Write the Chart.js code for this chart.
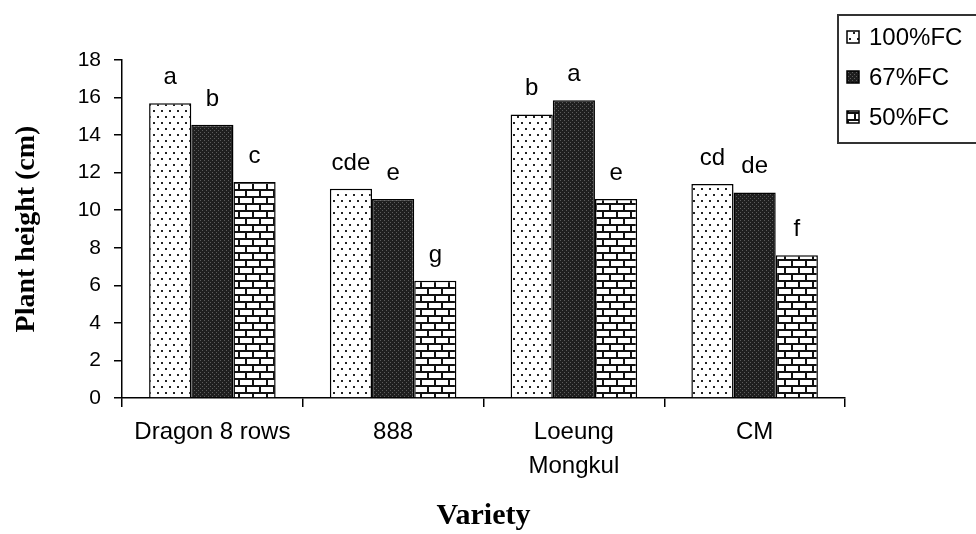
<!DOCTYPE html>
<html>
<head>
<meta charset="utf-8">
<script src="https://cdn.jsdelivr.net/npm/chart.js@4.4.0/dist/chart.umd.min.js"></script>
<style>
  html, body { margin: 0; padding: 0; background: #fff; }
  #wrap { width: 976px; height: 534px; }
</style>
</head>
<body>
<div id="wrap"><canvas id="c" width="976" height="534"></canvas></div>
<script>
// data
const varieties = ["Dragon 8 rows", "888", ["Loeung", "Mongkul"], "CM"];
const seriesNames = ["100%FC", "67%FC", "50%FC"];
const fc100 = [15.7, 11.15, 15.1, 11.4];
const fc67 = [14.55, 10.6, 15.85, 10.95];
const fc50 = [11.5, 6.25, 10.6, 7.6];
const letters100 = ["a", "cde", "b", "cd"];
const letters67 = ["b", "e", "a", "de"];
const letters50 = ["c", "g", "e", "f"];
const yTicks = [0, 2, 4, 6, 8, 10, 12, 14, 16, 18];

const sans = "'Liberation Sans', Arial, sans-serif";
const serif = "'Liberation Serif', 'Times New Roman', serif";

// fill patterns
function makeTile(w, h, paint) {
  const cv = document.createElement("canvas");
  cv.width = w; cv.height = h;
  const g = cv.getContext("2d");
  paint(g);
  return g.createPattern(cv, "repeat");
}
const ctx = document.getElementById("c").getContext("2d");

const dotted = makeTile(8, 12, g => {
  g.fillStyle = "#fff"; g.fillRect(0, 0, 8, 12);
  g.fillStyle = "#222";
  g.fillRect(1, 2, 2, 2);
  g.fillRect(5, 8, 2, 2);
});
const dark = makeTile(4, 4, g => {
  g.fillStyle = "#1f1f1f"; g.fillRect(0, 0, 4, 4);
  g.fillStyle = "#5c5c5c";
  g.fillRect(0, 0, 1, 1);
  g.fillRect(2, 2, 1, 1);
});
const brick = makeTile(14, 14, g => {
  g.fillStyle = "#fff"; g.fillRect(0, 0, 14, 14);
  g.fillStyle = "#111";
  g.fillRect(0, 0, 14, 2);
  g.fillRect(0, 7, 14, 2);
  g.fillRect(0, 0, 2, 7);
  g.fillRect(7, 7, 2, 7);
});
const fills = [dotted, dark, brick];
const letterSets = [letters100, letters67, letters50];

// letters over the bars
const letterPlugin = {
  id: "letters",
  afterDatasetsDraw(chart) {
    const c = chart.ctx;
    c.save();
    c.font = "24px " + sans;
    c.fillStyle = "#000";
    c.textAlign = "center";
    c.textBaseline = "alphabetic";
    chart.data.datasets.forEach((ds, i) => {
      chart.getDatasetMeta(i).data.forEach((bar, j) => {
        c.fillText(letterSets[i][j], bar.x, bar.y - 19);
      });
    });
    c.restore();
  }
};

// boxed legend in the top right corner
const legendPlugin = {
  id: "boxLegend",
  afterDraw(chart) {
    const c = chart.ctx;
    c.save();
    c.strokeStyle = "#333";
    c.lineWidth = 2;
    c.strokeRect(838, 15, 150, 128);
    c.font = "24px " + sans;
    c.textBaseline = "middle";
    seriesNames.forEach((name, i) => {
      const y = 37 + i * 40;
      c.fillStyle = fills[i];
      c.fillRect(847, y - 6, 12, 12);
      c.strokeStyle = "#000";
      c.lineWidth = 1.5;
      c.strokeRect(847, y - 6, 12, 12);
      c.fillStyle = "#000";
      c.fillText(name, 869, y + 1);
    });
    c.restore();
  }
};

new Chart(ctx, {
  type: "bar",
  data: {
    labels: varieties,
    datasets: [fc100, fc67, fc50].map((vals, i) => ({
      label: seriesNames[i],
      data: vals,
      backgroundColor: fills[i],
      borderColor: "#000",
      borderWidth: 1.5,
      barPercentage: 1,
      categoryPercentage: 0.7
    }))
  },
  options: {
    responsive: false,
    animation: false,
    layout: { padding: { top: 60, right: 131, left: 0, bottom: 0 } },
    plugins: {
      legend: { display: false },
      tooltip: { enabled: false }
    },
    scales: {
      x: {
        afterFit: s => { s.height = 136; },
        border: { color: "#000", width: 1.5 },
        grid: { drawOnChartArea: false, tickLength: 9, color: "#000", lineWidth: 1.5 },
        ticks: {
          color: "#000",
          padding: 8,
          maxRotation: 0,
          autoSkip: false,
          font: { family: sans, size: 24, lineHeight: 1.42 }
        },
        title: {
          display: true,
          text: "Variety",
          color: "#000",
          padding: { top: 0, bottom: 0 },
          font: { family: serif, size: 30, weight: "bold" }
        }
      },
      y: {
        min: 0,
        max: 18,
        afterFit: s => { s.width = 122; },
        afterBuildTicks: s => { s.ticks = yTicks.map(v => ({ value: v })); },
        border: { color: "#000", width: 1.5 },
        grid: { drawOnChartArea: false, tickLength: 8, color: "#000", lineWidth: 1.5 },
        ticks: {
          color: "#000",
          padding: 13,
          font: { family: sans, size: 21 }
        },
        title: {
          display: true,
          text: "Plant height (cm)",
          color: "#000",
          padding: { top: 10, bottom: 0 },
          font: { family: serif, size: 28, weight: "bold" }
        }
      }
    }
  },
  plugins: [letterPlugin, legendPlugin]
});
</script>
</body>
</html>
